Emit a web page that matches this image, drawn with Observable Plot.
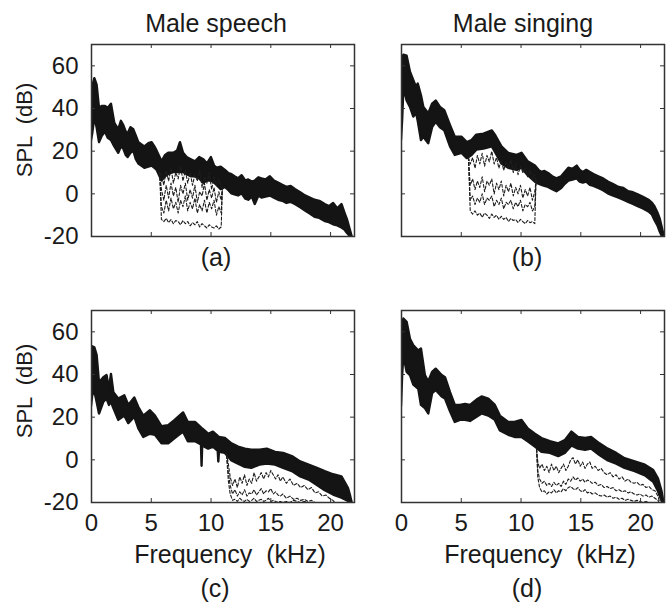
<!DOCTYPE html>
<html><head><meta charset="utf-8">
<script src="https://cdn.jsdelivr.net/npm/d3@7"></script>
<script src="https://cdn.jsdelivr.net/npm/@observablehq/plot@0.6"></script>
<style>
body{margin:0;background:#fff;}
#wrap{position:relative;width:668px;height:606px;font-family:"Liberation Sans",Arial,sans-serif;color:#1a1a1a;overflow:hidden;}
.lbl{position:absolute;font-size:25px;line-height:25px;white-space:pre;transform:translateX(-50%);}
.ylab{position:absolute;font-size:22px;line-height:22px;white-space:pre;transform:translate(-50%,-50%) rotate(-90deg);}
.panel{position:absolute;}
</style></head>
<body>
<div id="wrap"></div>
<script>
// ---- axis ticks ----
const xTicks = [0, 5, 10, 15, 20];
const yTicks = [-20, 0, 20, 40, 60];
const titles = ["Male speech", "Male singing"];
const captions = ["(a)", "(b)", "(c)", "(d)"];
const xLabel = "Frequency  (kHz)";
const yLabel = "SPL  (dB)";

// ---- (a) male speech, main spectrum band (kHz, dB) ----
const freqA = [0, 0.1, 0.28, 0.47, 0.67, 0.9, 1.17, 1.4, 1.67, 1.95, 2.28, 2.5, 2.7, 2.9, 3.06, 3.3, 3.54, 3.75, 3.96, 4.2, 4.46, 4.8, 5.07, 5.3, 5.49, 5.9, 6.2, 6.46, 6.88, 7.2, 7.44, 7.7, 8.0, 8.35, 8.7, 9.05, 9.4, 9.7, 10.03, 10.3, 10.5, 10.85, 11.2, 11.5, 11.75, 12.0, 12.3, 12.6, 12.9, 13.15, 13.45, 13.7, 14.0, 14.26, 14.6, 14.96, 15.3, 15.65, 16.0, 16.35, 16.7, 17.05, 17.5, 17.9, 18.3, 18.7, 19.1, 19.55, 19.9, 20.25, 20.6, 20.95, 21.2, 21.4, 21.65, 21.8];
const hiA = [45, 50, 54, 51, 40, 41, 41, 40, 42, 33, 30, 34, 32, 29, 28, 31, 30, 27, 24, 23, 22, 23.5, 24, 22, 20, 15, 18, 19, 19, 20, 24, 19, 17, 16, 15, 17, 16, 14, 17, 13, 12, 12.5, 11, 9.5, 9, 8, 7, 8.5, 6, 6.5, 5.5, 6, 7.5, 7, 6.5, 8, 6, 5, 4, 3, 3.5, 2, 0.5, -1, -2, -3, -3.5, -5, -6, -4.5, -7, -5, -9, -12, -17, -20];
const loA = [25, 28, 36, 31, 24, 27, 29, 26, 25, 22, 19, 22, 21, 18, 17, 19, 20, 16, 14, 13, 12, 12.5, 13, 12, 11, 6, 8, 9, 10, 10, 10, 10, 9, 8, 8, 7, 5, 6, 6, 5, 4, 2, 3, 1.5, 0, -0.5, -1, 0, -2.5, -3, -1.5, -5, -1, -2, -1.5, -1, -2, -3, -3.5, -4.5, -4, -5, -6.5, -8, -9.5, -11, -11.5, -13, -13.5, -14.5, -15, -16, -17, -18.5, -20, -21];
// (a) dashed (processed) spectra
const dashXA = [5.7, 5.85, 6.05, 6.25, 6.45, 6.65, 6.85, 7.05, 7.25, 7.45, 7.65, 7.85, 8.05, 8.25, 8.45, 8.65, 8.85, 9.05, 9.25, 9.45, 9.65, 9.85, 10.05, 10.25, 10.45, 10.65, 10.85, 10.95];
const a1 = [10, 9, 4, 11, 6, 12, 5, 10, 7, 13, 6, 11, 5, 10, 4, 9, 6, 11, 3, 8, 5, 10, 2, 8, 4, 7, 3, 3];
const a2 = [10, 2, -3, 4, -2, 5, -1, 3, -4, 4, 0, 5, -3, 2, -2, 4, -4, 1, -1, 5, -3, 2, -2, 3, -4, 1, -3, 3];
const a3 = [10, -6, -9, -3, -8, -2, -7, -4, -9, -3, -6, -1, -8, -4, -7, -2, -9, -5, -8, -3, -9, -4, -7, -3, -10, -6, -9, 3];
const a4 = [10, -12, -13, -11.5, -13.5, -12, -14, -12.5, -13, -14.5, -12.5, -14, -13, -15, -13.5, -14.5, -13, -15.5, -14, -15, -16, -14.5, -15.5, -16, -15, -16.5, -15.5, 3];

// ---- (b) male singing ----
const freqB = [0, 0.1, 0.2, 0.47, 0.75, 1.03, 1.25, 1.4, 1.67, 1.87, 2.28, 2.6, 2.9, 3.26, 3.62, 4.1, 4.5, 5.07, 5.5, 5.9, 6.3, 6.9, 7.6, 7.85, 8.4, 8.97, 9.67, 10.08, 10.6, 11.2, 11.5, 11.75, 12.0, 12.3, 12.65, 13.0, 13.4, 13.7, 14.0, 14.35, 14.7, 14.95, 15.2, 15.5, 15.8, 16.1, 16.5, 16.9, 17.3, 17.7, 18.2, 18.6, 19.0, 19.4, 19.8, 20.2, 20.7, 21.0, 21.2, 21.45, 21.65, 21.9];
const hiB = [55, 63, 65, 64.5, 57, 53, 50, 51.5, 46, 40.5, 37.5, 42, 43.5, 40.5, 39, 32, 26.5, 26.5, 24, 25, 27.5, 28, 29.5, 27.5, 22, 19, 18, 19, 15, 13, 11, 10, 10.5, 9.5, 8, 7, 8, 10, 12, 11.5, 13, 11, 10, 11, 10, 9, 8, 7, 5.5, 4.5, 3, 2.5, 1, 0.5, -0.5, -1.5, -3, -4.5, -6, -9, -12, -18];
const loB = [25, 35, 50, 43.5, 40.5, 36, 38, 34, 25, 26.5, 23.5, 31, 33.5, 31, 29.5, 22, 18, 19, 16.5, 18, 20.5, 21, 22, 19.5, 14, 12, 11, 12, 8.5, 5.5, 4.5, 4, 3.5, 3, 2, 1, 2.5, 4.5, 6, 6.5, 7, 5.5, 5, 5.5, 4, 3.5, 2.5, 1.5, 0, -1, -2, -3, -4, -5, -6, -7, -8.5, -10, -12.5, -15, -18, -21];
const dashXB = [5.6, 5.75, 5.95, 6.15, 6.35, 6.55, 6.75, 6.95, 7.15, 7.35, 7.55, 7.75, 7.95, 8.15, 8.35, 8.55, 8.75, 8.95, 9.15, 9.35, 9.55, 9.75, 9.95, 10.15, 10.35, 10.55, 10.75, 10.95, 11.15, 11.25];
const b1 = [17, 14, 17, 12, 18, 14, 19, 13, 18, 15, 20, 14, 17, 12, 16, 11, 15, 12, 16, 10, 14, 9, 13, 10, 12, 8, 11, 7, 9, 6];
const b2 = [17, 4, 7, 2, 6, 3, 8, 1, 6, 4, 7, 0, 5, 2, 6, -1, 4, 1, 5, -1, 3, 0, 4, -2, 2, -1, 3, -3, 1, 6];
const b3 = [17, -3, -1, -5, -2, -4, 0, -5, -2, -3, -1, -6, -3, -5, -2, -7, -4, -5, -3, -7, -4, -6, -3, -8, -5, -6, -4, -8, -6, 6];
const b4 = [17, -8, -9.5, -8, -10, -9, -11, -9, -10, -11.5, -9.5, -11, -10, -12, -10.5, -12, -11, -13, -11.5, -12.5, -12, -13.5, -12, -13, -14, -12.5, -13.5, -13, -14, 6];

// ---- (c) male speech, high band ----
const freqC = [0, 0.1, 0.28, 0.47, 0.67, 1.03, 1.3, 1.5, 1.67, 1.87, 2.28, 2.79, 3.12, 3.62, 3.96, 4.37, 4.93, 5.35, 5.9, 6.46, 7.0, 7.7, 8.1, 8.7, 9.2, 9.25, 9.3, 9.8, 10.2, 10.6, 10.65, 10.7, 11.2, 11.75, 12.3, 12.87, 13.4, 14.1, 14.7, 15.4, 16.07, 16.8, 17.5, 18.2, 18.9, 19.55, 20.25, 20.95, 21.5, 21.65, 21.8];
const hiC = [40, 53, 52.5, 49, 36, 38.5, 39.5, 33, 40, 31.5, 28.5, 30, 25.5, 29, 24.5, 20.5, 23, 20.5, 15.5, 16, 18.5, 22, 17.5, 17.5, 15, 14.5, 14.5, 12, 13, 11, 10.5, 10.5, 10, 7.5, 6, 5, 4.5, 4.5, 5, 3.5, 3, 1.5, -1, -2.5, -4, -5.5, -7, -8, -13.5, -16.5, -20];
const loC = [25, 30, 32, 27, 21.5, 27, 28.5, 25.5, 27, 24, 18.5, 20.5, 17, 20, 14.5, 10.5, 12, 11.5, 7.5, 7.5, 10, 13, 8.5, 8.5, 7, -3, 6.5, 5, 6, 4, -1, 3.5, 3, -0.5, -2, -3.5, -4, -2.5, -2, -2.5, -4, -5.5, -8, -9.5, -12, -14.5, -16.5, -18, -19.5, -20, -21];
const dashXC = [11.3, 11.45, 11.6, 11.8, 12.0, 12.2, 12.4, 12.6, 12.8, 13.0, 13.2, 13.4, 13.6, 13.8, 14.0, 14.2, 14.4, 14.6, 14.8, 15.0, 15.2, 15.4, 15.6, 15.8, 16.0, 16.3, 16.6, 16.9, 17.2, 17.5, 17.8, 18.1, 18.4, 18.7, 19.0, 19.3, 19.6, 19.9, 20.2, 20.5];
const c1 = [3, -2, -8, -12, -9, -13, -8, -11, -7, -12, -9, -11, -6, -10, -8, -6, -9, -6, -8, -5, -7, -9, -7, -10, -8, -11, -9, -12, -11, -13, -12, -14, -13, -15.5, -15, -17, -16.5, -18, -19, -21];
const c2 = [2, -6, -12, -16, -14, -17, -15, -16.5, -14, -17, -15.5, -16, -14, -16.5, -15, -13.5, -16, -14.5, -15, -13.5, -16, -15, -16.5, -17, -16, -18, -17, -18.5, -18, -19, -18.5, -19.5, -19, -20, -20.5, -21, -21, -21, -21, -21];
const c3 = [2, -10, -16, -19, -18.5, -19.5, -18, -19, -19.5, -18.5, -19.5, -19, -18, -19.5, -19, -18.5, -19.5, -19, -18, -19.5, -19, -19.5, -20, -19.5, -20, -19.5, -20, -19, -19.5, -20, -19.5, -20, -20.5, -21, -21, -21, -21, -21, -21, -21];

// ---- (d) male singing, high band ----
const freqD = [0, 0.1, 0.2, 0.47, 0.75, 1.03, 1.45, 1.67, 2.0, 2.28, 2.6, 2.9, 3.4, 3.68, 4.1, 4.5, 4.93, 5.35, 5.77, 6.32, 6.74, 7.3, 7.85, 8.27, 8.97, 9.5, 10.08, 10.6, 11.2, 11.75, 12.45, 13.15, 13.7, 14.26, 14.8, 15.4, 15.9, 16.6, 17.3, 18.0, 18.7, 19.55, 20.4, 21.1, 21.5, 21.8, 21.95];
const hiD = [50, 63, 66, 64.5, 56.5, 53.5, 51, 52, 39.5, 36.5, 41, 42.5, 39.5, 38.5, 31.5, 25.5, 25.5, 26, 25.5, 28, 29.5, 28.5, 25.5, 20.5, 17.5, 17.5, 18.5, 14.5, 12, 10, 8.5, 7.5, 9, 13, 10.5, 10, 10.5, 7.5, 5, 3, 0.5, -1, -2.5, -5, -9, -15, -20];
const loD = [25, 40, 49, 41, 39.5, 35, 33, 25.5, 24, 21.5, 31, 32.5, 29.5, 28.5, 22.5, 17.5, 18.5, 18.5, 18, 20, 21.5, 20.5, 18.5, 13.5, 11.5, 10.5, 10.5, 8.5, 6, 3.5, 3, 1.5, 3, 6.5, 5, 4.5, 5, 2, -0.5, -2, -4, -5.5, -7.5, -10.5, -15, -19.5, -21];
const dashXD = [11.3, 11.4, 11.55, 11.75, 11.95, 12.15, 12.35, 12.55, 12.75, 12.95, 13.15, 13.35, 13.55, 13.75, 13.95, 14.15, 14.35, 14.55, 14.75, 14.95, 15.15, 15.35, 15.55, 15.75, 15.95, 16.2, 16.45, 16.7, 16.95, 17.2, 17.45, 17.7, 17.95, 18.2, 18.45, 18.7, 18.95, 19.2, 19.45, 19.7, 19.95, 20.2, 20.45, 20.7, 20.95, 21.2, 21.45, 21.65];
const d1 = [5, -1, -4, -2, -5, -3, -6, -2, -5, -3, -6, -4, -2, -5, -3, 0, 1, -2, 0, -3, -1, -4, -2, -1, -4, -3, -5, -4, -6, -7, -6, -8, -7, -9, -8, -10, -9, -10.5, -11, -10.5, -12, -11.5, -13, -12.5, -14, -14.5, -17, -21];
const d2 = [5, -5, -9, -11, -10, -12, -11, -12.5, -10.5, -12, -11, -12.5, -10, -11.5, -9, -10, -8, -9.5, -8.5, -10, -9, -10.5, -9.5, -10, -11, -10.5, -12, -11.5, -13, -12.5, -13.5, -13, -14.5, -14, -15, -14.5, -15.5, -15, -16, -16.5, -16, -17, -16.5, -17.5, -17, -18, -19, -21];
const d3 = [5, -8, -13, -15, -14.5, -16, -15, -15.5, -14, -15.5, -14.5, -15, -13.5, -14.5, -13, -12.5, -13.5, -14, -13, -14.5, -15, -14, -15.5, -15, -16, -15.5, -16.5, -17, -16.5, -17.5, -17, -18, -17.5, -18.5, -18, -19, -18.5, -19, -19.5, -19, -19.5, -20, -19.5, -20, -20.5, -20, -21, -21];

const wrap = document.getElementById("wrap");

function panel(cfg) {
  const {freq, hi, lo, dashX, dashes, left, top, width, height, ml, mr, mt, mb, showX, showY} = cfg;
  const pw = width - ml - mr, ph = height - mt - mb;
  const band = freq.map((f, i) => ({f, hi: hi[i], lo: lo[i]}));
  const marks = [
    Plot.areaY(band, {x: "f", y1: "lo", y2: "hi", fill: "#141414", stroke: "#141414", strokeWidth: 2.4, strokeLinejoin: "round", clip: true}),
    ...dashes.map(vals => Plot.line(dashX.map((x, i) => ({x, y: vals[i]})),
      {x: "x", y: "y", stroke: "#1e1e1e", strokeWidth: 1.1, strokeDasharray: "3,2", clip: true})),
    Plot.tickY(yTicks, {y: d => d, insetRight: pw - 4, stroke: "#333"}),
    Plot.tickY(yTicks, {y: d => d, insetLeft: pw - 4, stroke: "#333"}),
    Plot.tickX(xTicks, {x: d => d, insetBottom: ph - 4, stroke: "#333"}),
    Plot.tickX(xTicks, {x: d => d, insetTop: ph - 4, stroke: "#333"}),
    Plot.frame({stroke: "#333", strokeWidth: 1.5})
  ];
  const chart = Plot.plot({
    width, height,
    marginLeft: ml, marginRight: mr, marginTop: mt, marginBottom: mb,
    style: {fontSize: "24px", fontFamily: "'Liberation Sans', Arial, sans-serif", color: "#1a1a1a", background: "transparent", overflow: "visible"},
    x: {domain: [0, 22], ticks: xTicks, tickSize: 0, tickPadding: 11, tickFormat: d => `${d}`, label: null, axis: showX ? "bottom" : null},
    y: {domain: [-20, 70], ticks: yTicks, tickSize: 0, tickPadding: 13, tickFormat: d => `${d}`, label: null, axis: showY ? "left" : null},
    marks
  });
  const div = document.createElement("div");
  div.className = "panel";
  div.style.left = left + "px";
  div.style.top = top + "px";
  div.appendChild(chart);
  wrap.appendChild(div);
}

panel({freq: freqA, hi: hiA, lo: loA, dashX: dashXA, dashes: [a1, a2, a3, a4], left: 0, top: 0, width: 360, height: 246, ml: 91, mr: 6, mt: 44, mb: 10, showX: false, showY: true});
panel({freq: freqB, hi: hiB, lo: loB, dashX: dashXB, dashes: [b1, b2, b3, b4], left: 360, top: 0, width: 308, height: 246, ml: 41, mr: 4, mt: 44, mb: 10, showX: false, showY: false});
panel({freq: freqC, hi: hiC, lo: loC, dashX: dashXC, dashes: [c1, c2, c3], left: 0, top: 270, width: 360, height: 270, ml: 91, mr: 6, mt: 40, mb: 38, showX: true, showY: true});
panel({freq: freqD, hi: hiD, lo: loD, dashX: dashXD, dashes: [d1, d2, d3], left: 360, top: 270, width: 308, height: 270, ml: 41, mr: 4, mt: 40, mb: 38, showX: true, showY: false});

function label(text, cx, baseline) {
  const el = document.createElement("div");
  el.className = "lbl";
  el.textContent = text;
  el.style.left = cx + "px";
  el.style.top = (baseline - 21.2) + "px";
  wrap.appendChild(el);
}
label(titles[0], 216, 32);
label(titles[1], 523, 32);
label(captions[0], 216, 266);
label(captions[1], 527, 266);
label(captions[2], 215, 597);
label(captions[3], 527, 597);
label(xLabel, 230, 563);
label(xLabel, 540, 563);

function ylabel(text, cx, cy) {
  const el = document.createElement("div");
  el.className = "ylab";
  el.textContent = text;
  el.style.left = cx + "px";
  el.style.top = cy + "px";
  wrap.appendChild(el);
}
ylabel(yLabel, 25, 130);
ylabel(yLabel, 25, 391);
</script>
</body></html>
